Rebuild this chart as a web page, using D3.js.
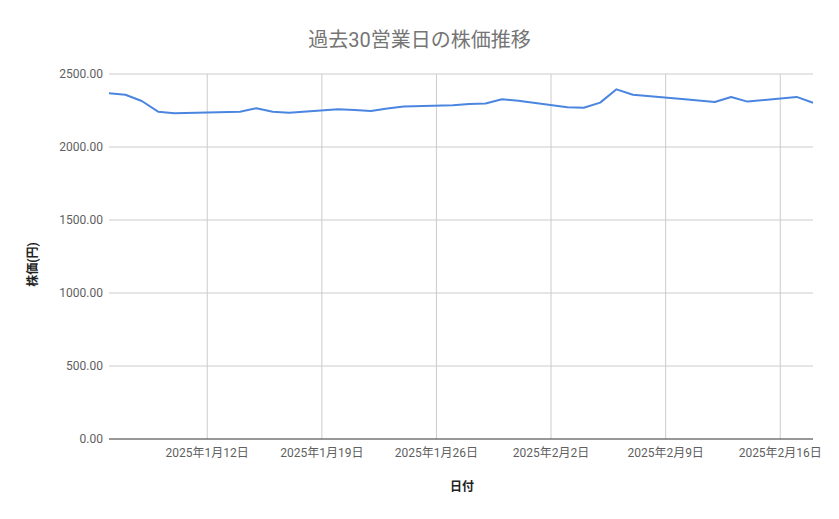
<!DOCTYPE html>
<html>
<head>
<meta charset="utf-8">
<script src="https://cdn.jsdelivr.net/npm/d3@7"></script>
<style>
  body { margin: 0; background: #fff; }
  svg text { font-family: Roboto, "Noto Sans CJK JP", sans-serif; }
</style>
</head>
<body>
<svg id="chart"></svg>
<script>
// 30 business days (Jan 13 and Feb 11 are holidays)
const dates = [
    "2025-01-06", "2025-01-07", "2025-01-08", "2025-01-09", "2025-01-10",
    "2025-01-14", "2025-01-15", "2025-01-16", "2025-01-17",
    "2025-01-20", "2025-01-21", "2025-01-22", "2025-01-23", "2025-01-24",
    "2025-01-27", "2025-01-28", "2025-01-29", "2025-01-30", "2025-01-31",
    "2025-02-03", "2025-02-04", "2025-02-05", "2025-02-06", "2025-02-07",
    "2025-02-10", "2025-02-12", "2025-02-13", "2025-02-14",
    "2025-02-17", "2025-02-18"
];
const prices = [
    2368, 2358, 2315, 2242, 2231,
    2242, 2266, 2242, 2234,
    2258, 2253, 2247, 2264, 2277,
    2286, 2294, 2298, 2327, 2317,
    2273, 2269, 2304, 2395, 2358,
    2328, 2308, 2343, 2311,
    2343, 2303
];
const yTicks = [0, 500, 1000, 1500, 2000, 2500];
const xTicks = ["2025-01-12", "2025-01-19", "2025-01-26", "2025-02-02", "2025-02-09", "2025-02-16"];

const width = 839, height = 519;
const margin = {top: 74, right: 26, bottom: 80, left: 109};

const parse = d3.timeParse("%Y-%m-%d");
const data = dates.map((d, i) => ({date: parse(d), value: prices[i]}));

const svg = d3.select("#chart")
    .attr("width", width)
    .attr("height", height);

const x = d3.scaleTime()
    .domain([parse("2025-01-06"), parse("2025-02-18")])
    .range([margin.left, width - margin.right]);

const y = d3.scaleLinear()
    .domain([0, 2500])
    .range([height - margin.bottom, margin.top]);

// horizontal grid
svg.append("g")
    .selectAll("line")
    .data(yTicks.slice(1))
    .join("line")
    .attr("x1", margin.left)
    .attr("x2", width - margin.right)
    .attr("y1", d => y(d))
    .attr("y2", d => y(d))
    .attr("stroke", "#cccccc")
    .attr("stroke-width", 1);

// vertical grid
svg.append("g")
    .selectAll("line")
    .data(xTicks.map(parse))
    .join("line")
    .attr("x1", d => x(d))
    .attr("x2", d => x(d))
    .attr("y1", margin.top)
    .attr("y2", height - margin.bottom)
    .attr("stroke", "#cccccc")
    .attr("stroke-width", 1);

// y tick labels
svg.append("g")
    .selectAll("text")
    .data(yTicks)
    .join("text")
    .attr("x", margin.left - 6)
    .attr("y", d => y(d))
    .attr("dy", "0.35em")
    .attr("text-anchor", "end")
    .attr("font-size", 12)
    .attr("fill", "#5f5f5f")
    .text(d => d3.format(".2f")(d));

// x tick labels
const fmt = d => `${d.getFullYear()}年${d.getMonth() + 1}月${d.getDate()}日`;
svg.append("g")
    .selectAll("text")
    .data(xTicks.map(parse))
    .join("text")
    .attr("x", d => x(d))
    .attr("y", height - margin.bottom + 18)
    .attr("text-anchor", "middle")
    .attr("font-size", 12)
    .attr("fill", "#5f5f5f")
    .text(fmt);

// baseline
svg.append("line")
    .attr("x1", margin.left)
    .attr("x2", width - margin.right)
    .attr("y1", y(0))
    .attr("y2", y(0))
    .attr("stroke", "#333333")
    .attr("stroke-width", 1);

// price line
const line = d3.line()
    .x(d => x(d.date))
    .y(d => y(d.value));

svg.append("path")
    .datum(data)
    .attr("d", line)
    .attr("fill", "none")
    .attr("stroke", "#4a86e0")
    .attr("stroke-width", 2)
    .attr("stroke-linejoin", "round");

// title
svg.append("text")
    .attr("x", width / 2)
    .attr("y", 47)
    .attr("text-anchor", "middle")
    .attr("font-size", 20)
    .attr("fill", "#757575")
    .text("過去30営業日の株価推移");

// axis titles
svg.append("text")
    .attr("x", 462)
    .attr("y", 491)
    .attr("text-anchor", "middle")
    .attr("font-size", 12)
    .attr("font-weight", "bold")
    .attr("fill", "#222222")
    .text("日付");

svg.append("text")
    .attr("transform", `translate(37, ${(margin.top + height - margin.bottom) / 2 + 8}) rotate(-90)`)
    .attr("text-anchor", "middle")
    .attr("font-size", 12)
    .attr("font-weight", "bold")
    .attr("fill", "#222222")
    .text("株価(円)");
</script>
</body>
</html>
